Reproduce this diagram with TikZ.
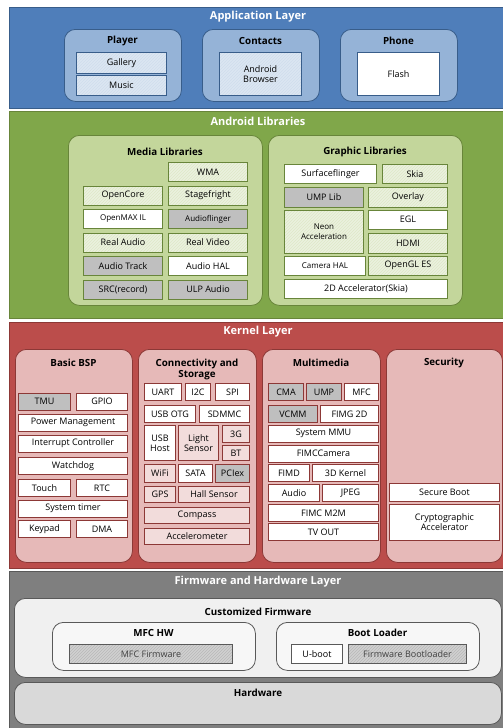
\documentclass[tikz,border=0pt]{standalone}
\usepackage{fontspec}
\setmainfont{Open Sans}
\usepackage{tikz}
\usetikzlibrary{patterns}

\definecolor{appL}{RGB}{79,126,186}
\definecolor{appE}{RGB}{56,93,138}
\definecolor{appG}{RGB}{149,179,215}
\definecolor{appI}{RGB}{220,230,242}
\definecolor{andL}{RGB}{128,167,74}
\definecolor{andE}{RGB}{104,133,58}
\definecolor{andG}{RGB}{195,214,155}
\definecolor{andI}{RGB}{235,241,222}
\definecolor{kerL}{RGB}{187,77,75}
\definecolor{kerE}{RGB}{140,56,54}
\definecolor{kerG}{RGB}{230,185,184}
\definecolor{kerI}{RGB}{242,220,219}
\definecolor{fwL}{RGB}{127,127,127}
\definecolor{fwE}{RGB}{89,89,89}
\definecolor{cellgray}{RGB}{191,191,191}

\tikzset{
	wh/.style 2 args={minimum width=#1pt, minimum height=#2pt},
	layer/.style={draw=#1, line width=0.8pt, anchor=north west, inner sep=0pt},
	grp/.style={draw=#1, line width=0.8pt, rounded corners=11pt, anchor=north west, inner sep=0pt},
	cell/.style={draw=#1, line width=1pt, anchor=north west, inner sep=0pt,
		font=\fontsize{9}{10}\selectfont, align=center},
	hatch/.style 2 args={preaction={fill=#1}, preaction={pattern=north east lines, pattern color=#2}},
	ltitle/.style={text=white, font=\fontsize{11}{12}\selectfont\bfseries},
	gtitle/.style={font=\fontsize{9.8}{11}\selectfont\bfseries, align=center},
	small/.style={font=\fontsize{8}{9.5}\selectfont}
}

\begin{document}
\begin{tikzpicture}[x=1pt,y=-1pt]
	\useasboundingbox (0,0) rectangle (503,728);
	\clip (0,0) rectangle (503,728);

	% application layer
	\node[layer=appE, fill=appL, wh={510}{101}] (app) at (9,7) {};
	\node[ltitle] (appT) at (258,17) {Application Layer};
	\node[grp=appE, fill=appG, wh={117}{72}] (player) at (64,29) {};
	\node[grp=appE, fill=appG, wh={117}{72}] (contacts) at (202,29) {};
	\node[grp=appE, fill=appG, wh={117}{72}] (phone) at (340,29) {};
	\node[gtitle] (playerT) at (122.5,41) {Player};
	\node[gtitle] (contactsT) at (260.5,41) {Contacts};
	\node[gtitle] (phoneT) at (398.5,41) {Phone};
	\node[cell=appE, hatch={appI}{appG!45}, wh={90}{21}] (gallery) at (76,52) {Gallery};
	\node[cell=appE, hatch={appI}{appG!45}, wh={90}{20}] (music) at (76,75) {Music};
	\node[cell=appE, hatch={appI}{appG!45}, wh={82}{43}] (browser) at (219,52) {Android\\Browser};
	\node[cell=appE, fill=white, wh={82}{43}] (flash) at (357,52) {Flash};

	% android libraries
	\node[layer=andE, fill=andL, wh={510}{207}] (android) at (9,111) {};
	\node[ltitle] (androidT) at (258,121) {Android Libraries};
	\node[grp=andE, fill=andG, wh={194}{170}] (media) at (68,135) {};
	\node[grp=andE, fill=andG, wh={194}{170}] (graphic) at (268,135) {};
	\node[gtitle] (mediaT) at (165,152) {Media Libraries};
	\node[gtitle] (graphicT) at (365,152) {Graphic Libraries};

	\node[cell=andE, hatch={andI}{andG!55}, wh={79}{19}] (wma) at (168,162) {WMA};
	\node[cell=andE, hatch={andI}{andG!55}, wh={79}{19}] (opencore) at (83,185.5) {OpenCore};
	\node[cell=andE, hatch={andI}{andG!55}, wh={79}{19}] (stagefright) at (168,185.5) {Stagefright};
	\node[cell=andE, fill=white, small, wh={79}{19}] (openmax) at (83,209) {OpenMAX IL};
	\node[cell=andE, fill=cellgray, small, wh={79}{19}] (audioflinger) at (168,209) {Audioflinger};
	\node[cell=andE, hatch={andI}{andG!55}, wh={79}{19}] (realaudio) at (83,232.5) {Real Audio};
	\node[cell=andE, hatch={andI}{andG!55}, wh={79}{19}] (realvideo) at (168,232.5) {Real Video};
	\node[cell=andE, fill=cellgray, wh={79}{19}] (audiotrack) at (83,256) {Audio Track};
	\node[cell=andE, fill=white, wh={79}{19}] (audiohal) at (168,256) {Audio HAL};
	\node[cell=andE, fill=cellgray, wh={79}{19}] (src) at (83,279.5) {SRC(record)};
	\node[cell=andE, fill=cellgray, wh={79}{19}] (ulp) at (168,279.5) {ULP Audio};

	\node[cell=andE, fill=white, wh={92}{19}] (surface) at (284,164) {Surfaceflinger};
	\node[cell=andE, hatch={andI}{andG!55}, wh={65}{19}] (skia) at (382,164) {Skia};
	\node[cell=andE, fill=cellgray, wh={79}{20}] (umplib) at (284,187) {UMP Lib};
	\node[cell=andE, hatch={andI}{andG!55}, wh={79}{20}] (overlay) at (368,187) {Overlay};
	\node[cell=andE, hatch={andI}{andG!55}, small, wh={79}{43}] (neon) at (284,209.5) {Neon\\Acceleration};
	\node[cell=andE, fill=white, wh={79}{19}] (egl) at (368,209.5) {EGL};
	\node[cell=andE, hatch={andI}{andG!55}, wh={79}{20}] (hdmi) at (368,232.5) {HDMI};
	\node[cell=andE, fill=white, small, wh={81}{19}] (camhal) at (284,255.5) {Camera HAL};
	\node[cell=andE, hatch={andI}{andG!55}, wh={79}{19}] (opengl) at (368,255.5) {OpenGL ES};
	\node[cell=andE, fill=white, wh={163}{19}] (accel2d) at (284,278.5) {2D Accelerator(Skia)};

	% kernel layer
	\node[layer=kerE, fill=kerL, wh={510}{246}] (kernel) at (9,322) {};
	\node[ltitle] (kernelT) at (258,332) {Kernel Layer};
	\node[grp=kerE, fill=kerG, wh={117}{213}] (bsp) at (15,349) {};
	\node[grp=kerE, fill=kerG, wh={118}{213}] (conn) at (138,349) {};
	\node[grp=kerE, fill=kerG, wh={118}{213}] (mm) at (262,349) {};
	\node[grp=kerE, fill=kerG, wh={116}{213}] (sec) at (386,349) {};
	\node[gtitle] (bspT) at (73.5,363) {Basic BSP};
	\node[gtitle, inner sep=0pt] (connT) at (197,369) {Connectivity and\\Storage};
	\node[gtitle] (mmT) at (321,363) {Multimedia};
	\node[gtitle] (secT) at (444,363) {Security};

	\node[cell=kerE, fill=cellgray, wh={52}{17}] (tmu) at (18,392.5) {TMU};
	\node[cell=kerE, fill=white, wh={51}{17}] (gpio) at (76,392.5) {GPIO};
	\node[cell=kerE, fill=white, wh={109}{17}] (power) at (18,413.5) {Power Management};
	\node[cell=kerE, fill=white, wh={109}{17}] (irq) at (18,434.5) {Interrupt Controller};
	\node[cell=kerE, fill=white, wh={109}{17}] (watchdog) at (18,457) {Watchdog};
	\node[cell=kerE, fill=white, wh={52}{17}] (touch) at (18,479) {Touch};
	\node[cell=kerE, fill=white, wh={51}{17}] (rtc) at (76,479) {RTC};
	\node[cell=kerE, fill=white, wh={109}{17}] (systimer) at (18,499.5) {System timer};
	\node[cell=kerE, fill=white, wh={52}{17}] (keypad) at (18,520) {Keypad};
	\node[cell=kerE, fill=white, wh={51}{17}] (dma) at (76,520) {DMA};

	\node[cell=kerE, fill=white, wh={37}{17}] (uart) at (144,383) {UART};
	\node[cell=kerE, fill=white, wh={25}{17}] (i2c) at (185,383) {I2C};
	\node[cell=kerE, fill=white, wh={34}{17}] (spi) at (215,383) {SPI};
	\node[cell=kerE, fill=white, wh={51}{17}] (usbotg) at (144,405) {USB OTG};
	\node[cell=kerE, fill=white, wh={50}{17}] (sdmmc) at (199,405) {SDMMC};
	\node[cell=kerE, fill=white, wh={31}{35}] (usbhost) at (144,425) {USB\\Host};
	\node[cell=kerE, hatch={kerI}{kerG!50}, wh={40}{35}] (light) at (178,425) {Light\\Sensor};
	\node[cell=kerE, hatch={kerI}{kerG!50}, wh={27}{17}] (g3) at (222,425) {3G};
	\node[cell=kerE, hatch={kerI}{kerG!50}, wh={27}{15}] (bt) at (222,445) {BT};
	\node[cell=kerE, hatch={kerI}{kerG!50}, wh={31}{18}] (wifi) at (144,464) {WiFi};
	\node[cell=kerE, fill=white, wh={34}{18}] (sata) at (178,464) {SATA};
	\node[cell=kerE, fill=cellgray, wh={34}{18}] (pciex) at (215,464) {PCIex};
	\node[cell=kerE, hatch={kerI}{kerG!50}, wh={31}{16}] (gps) at (144,486) {GPS};
	\node[cell=kerE, hatch={kerI}{kerG!50}, wh={71}{16}] (hall) at (178,486) {Hall Sensor};
	\node[cell=kerE, hatch={kerI}{kerG!50}, wh={105}{16}] (compass) at (144,507) {Compass};
	\node[cell=kerE, hatch={kerI}{kerG!50}, wh={105}{16}] (accelero) at (144,527.5) {Accelerometer};

	\node[cell=kerE, fill=cellgray, wh={35}{17}] (cma) at (268,383) {CMA};
	\node[cell=kerE, fill=cellgray, wh={35}{17}] (ump) at (306,383) {UMP};
	\node[cell=kerE, fill=white, wh={34}{17}] (mfc) at (344,383) {MFC};
	\node[cell=kerE, fill=cellgray, wh={49}{17}] (vcmm) at (268,405) {VCMM};
	\node[cell=kerE, fill=white, wh={58}{17}] (fimg) at (320,405) {FIMG 2D};
	\node[cell=kerE, fill=white, wh={110}{17}] (sysmmu) at (268,424.5) {System MMU};
	\node[cell=kerE, fill=white, wh={110}{17}] (fimccam) at (268,444.5) {FIMCCamera};
	\node[cell=kerE, fill=white, wh={41}{17}] (fimd) at (268,464) {FIMD};
	\node[cell=kerE, fill=white, wh={66}{17}] (kernel3d) at (312,464) {3D Kernel};
	\node[cell=kerE, fill=white, wh={51}{17}] (audio) at (268,484) {Audio};
	\node[cell=kerE, fill=white, wh={56}{17}] (jpeg) at (322,484) {JPEG};
	\node[cell=kerE, fill=white, wh={110}{17}] (m2m) at (268,504) {FIMC M2M};
	\node[cell=kerE, fill=white, wh={110}{17}] (tvout) at (268,523) {TV OUT};

	\node[cell=kerE, fill=white, wh={110}{18}] (secboot) at (389,483) {Secure Boot};
	\node[cell=kerE, fill=white, wh={110}{36}] (crypto) at (389,504) {Cryptographic\\Accelerator};

	% firmware and hardware layer
	\node[layer=fwE, fill=fwL, wh={510}{170}] (firmware) at (9,571) {};
	\node[ltitle] (firmwareT) at (258,582) {Firmware and Hardware Layer};
	\node[grp=fwE, fill=black!6, wh={487}{79}] (custom) at (14,598) {};
	\node[gtitle] (customT) at (258,612) {Customized Firmware};
	\node[grp=fwE, fill=black!3, wh={203}{48}] (mfchw) at (52,622) {};
	\node[grp=fwE, fill=black!3, wh={203}{48}] (boot) at (276,622) {};
	\node[gtitle] (mfchwT) at (153.5,633) {MFC HW};
	\node[gtitle] (bootT) at (377.5,633) {Boot Loader};
	\node[cell=fwE, hatch={black!18}{black!28}, text=black!75, wh={163}{19}] (mfcfw) at (69,644) {MFC Firmware};
	\node[cell=fwE, fill=white, wh={51}{19}] (uboot) at (291,644) {U-boot};
	\node[cell=fwE, hatch={black!18}{black!28}, text=black!75, wh={118}{19}] (fwboot) at (348,644) {Firmware Bootloader};
	\node[grp=fwE, fill=black!15, wh={487}{42}] (hardware) at (14,682) {};
	\node[gtitle] (hardwareT) at (258,693) {Hardware};
\end{tikzpicture}
\end{document}
